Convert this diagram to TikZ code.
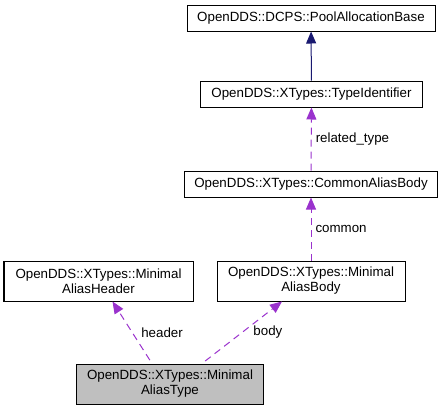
\documentclass[tikz,border=0pt]{standalone}
\usepackage{fontspec}
\setmainfont{Liberation Sans}
\usepackage{xcolor}
\usepackage{tikz}
\usetikzlibrary{arrows.meta}
\definecolor{navyline}{HTML}{191970}
\definecolor{useline}{HTML}{9A32CD}
\definecolor{curfill}{HTML}{BFBFBF}

\begin{document}
\begin{tikzpicture}[x=0.75pt,y=-0.75pt,
      cls/.style={rectangle,draw,fill=white,align=center,inner sep=0pt,line width=0.75pt},
      uses/.style={draw=useline,line width=0.75pt,dash pattern=on 5.25pt off 3.75pt,
        -{Triangle[length=9pt,width=7.5pt,fill=useline]}},
      inherit/.style={draw=navyline,line width=0.75pt,
        -{Triangle[length=9pt,width=7.5pt,fill=navyline]}},
      lbl/.style={draw=none,fill=none,anchor=west,inner sep=0pt}]
      \tikzstyle{every node}=[font=\fontsize{10}{11.2}\selectfont]
      \useasboundingbox (0,0) rectangle (444,411);
      \node[cls,minimum width=186pt,minimum height=19.5pt] (pool) at (311,18) {OpenDDS::DCPS::PoolAllocationBase};
      \node[cls,minimum width=167pt,minimum height=19.5pt] (typeid) at (311.5,94) {OpenDDS::XTypes::TypeIdentifier};
      \node[cls,minimum width=190pt,minimum height=19.5pt] (common) at (311,184) {OpenDDS::XTypes::CommonAliasBody};
      \node[cls,minimum width=141pt,minimum height=30pt] (body) at (311,281) {OpenDDS::XTypes::Minimal\\AliasBody};
      \node[cls,minimum width=141.75pt,minimum height=30pt] (header) at (98.5,281) {OpenDDS::XTypes::Minimal\\AliasHeader};
      \node[cls,fill=curfill,minimum width=140.25pt,minimum height=30pt] (aliastype) at (170,384) {OpenDDS::XTypes::Minimal\\AliasType};
      % edges
      \draw[inherit] (typeid) -- (pool);
      \draw[uses] (common) -- (typeid) node[lbl,pos=0.5,xshift=3pt] {related\_type};
      \draw[uses] (body) -- (common) node[lbl,pos=0.5,xshift=3pt] {common};
      \draw[uses,shorten <=3pt] ([xshift=-13.5pt]aliastype.north) -- ([xshift=10.5pt]header.south)
        node[lbl,pos=0.5,xshift=6.4pt] {header};
      \draw[uses,shorten <=3pt] ([xshift=24pt]aliastype.north) -- ([xshift=-21.75pt]body.south)
        node[lbl,pos=0.5,xshift=8.25pt] {body};
\end{tikzpicture}
\end{document}
